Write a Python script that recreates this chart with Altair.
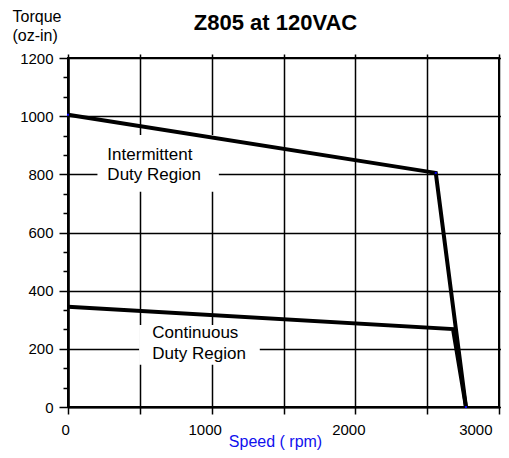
import altair as alt
import pandas as pd

# ---- data ----
inter_speed = [0, 2560, 2770]
inter_torque = [1005, 805, 0]
cont_speed = [0, 2680, 2770]
cont_torque = [345, 268, 0]

region_text = ["Intermittent\nDuty Region", "Continuous\nDuty Region"]
region_speed = [274, 587]
region_torque = [867, 253]
box_speed1 = [205, 495]
box_speed2 = [1050, 1335]
box_torque1 = [740, 145]
box_torque2 = [935, 282]

x_ticks = [0, 500, 1000, 1500, 2000, 2500, 3000]
y_ticks = [0, 200, 400, 600, 800, 1000, 1200]
y_minor = [66.7, 133.3, 266.7, 333.3, 466.7, 533.3, 666.7, 733.3,
           866.7, 933.3, 1066.7, 1133.3]

FONT = "Liberation Sans"

inter = pd.DataFrame({"speed": inter_speed, "torque": inter_torque})
cont = pd.DataFrame({"speed": cont_speed, "torque": cont_torque})
labels = pd.DataFrame({"text": region_text, "speed": region_speed, "torque": region_torque})
boxes = pd.DataFrame({"x1": box_speed1, "x2": box_speed2, "y1": box_torque1, "y2": box_torque2})

xs = alt.Scale(domain=[0, 3000], nice=False, zero=False)
ys = alt.Scale(domain=[0, 1200], nice=False, zero=False)

main_x_axis = alt.Axis(
    values=x_ticks, orient="bottom", format="d",
    labelExpr="datum.value % 1000 == 0 ? datum.label : ''",
    labelFont=FONT, labelFontSize=15, labelColor="black", labelPadding=8, labelOffset=-7,
    tickSize=7, tickColor="black", tickWidth=1.5,
    grid=True, gridColor="black", gridWidth=1.5, gridOpacity=1,
    domain=True, domainColor="black", domainWidth=2,
    title="Speed ( rpm)", titleFont=FONT, titleFontSize=16, titleFontWeight="normal",
    titleColor="#1010ee", titleX=207, titleY=34, titleBaseline="middle", titleAlign="center",
)
main_y_axis = alt.Axis(
    values=y_ticks, orient="left", format="d",
    labelFont=FONT, labelFontSize=15, labelColor="black", labelPadding=6,
    tickSize=9, tickColor="black", tickWidth=1.5,
    grid=True, gridColor="black", gridWidth=1.5, gridOpacity=1,
    domain=True, domainColor="black", domainWidth=2.5,
    title=["Torque", "(oz-in)"], titleFont=FONT, titleFontSize=16, titleFontWeight="normal",
    titleColor="black", titleAngle=0, titleAlign="left", titleBaseline="top",
    titleX=-56, titleY=-50, titleLineHeight=19,
)

line_inter = alt.Chart(inter).mark_line(color="black", strokeWidth=4, strokeJoin="miter").encode(
    x=alt.X("speed:Q", scale=xs, axis=main_x_axis),
    y=alt.Y("torque:Q", scale=ys, axis=main_y_axis),
)

line_cont = alt.Chart(cont).mark_line(color="black", strokeWidth=4, strokeJoin="miter").encode(
    x=alt.X("speed:Q", scale=xs, axis=None),
    y=alt.Y("torque:Q", scale=ys, axis=alt.Axis(
        values=y_minor, orient="left", labels=False, domain=False, grid=False,
        tickSize=5, tickColor="black", tickWidth=1.5, title=None)),
)

rects = alt.Chart(boxes).mark_rect(color="white").encode(
    x=alt.X("x1:Q", scale=xs, axis=None), x2="x2:Q",
    y=alt.Y("y1:Q", scale=ys, axis=None), y2="y2:Q",
)

texts = alt.Chart(labels).mark_text(
    align="left", baseline="middle", font=FONT, fontSize=17, lineBreak="\n",
    lineHeight=20.5, color="black",
).encode(
    x=alt.X("speed:Q", scale=xs, axis=None),
    y=alt.Y("torque:Q", scale=ys, axis=None),
    text="text:N",
)

dots = alt.Chart(inter).mark_square(color="#0000ff", size=4, opacity=1).encode(
    x=alt.X("speed:Q", scale=xs, axis=alt.Axis(
        values=x_ticks, orient="top", labels=False, domain=False, grid=False,
        tickSize=4, tickColor="black", tickWidth=1.5,
        title="Z805 at 120VAC", titleFont=FONT, titleFontSize=22, titleFontWeight="bold",
        titleColor="black", titleX=207, titleY=-36, titleBaseline="middle", titleAlign="center")),
    y=alt.Y("torque:Q", scale=ys, axis=alt.Axis(
        values=y_ticks, orient="right", labels=False, domain=False, grid=False,
        tickSize=3, tickColor="black", tickWidth=1.5, title=None)),
)

chart = alt.layer(rects, line_inter, line_cont, texts, dots).resolve_axis(
    x="independent", y="independent"
).properties(
    width=431, height=349,
    padding={"left": 60, "top": 50, "right": 2, "bottom": 43},
    autosize="none",
    background="white",
).configure_view(stroke="black", strokeWidth=2)

chart.save("out.html", embed_options={"renderer": "svg", "actions": False})
